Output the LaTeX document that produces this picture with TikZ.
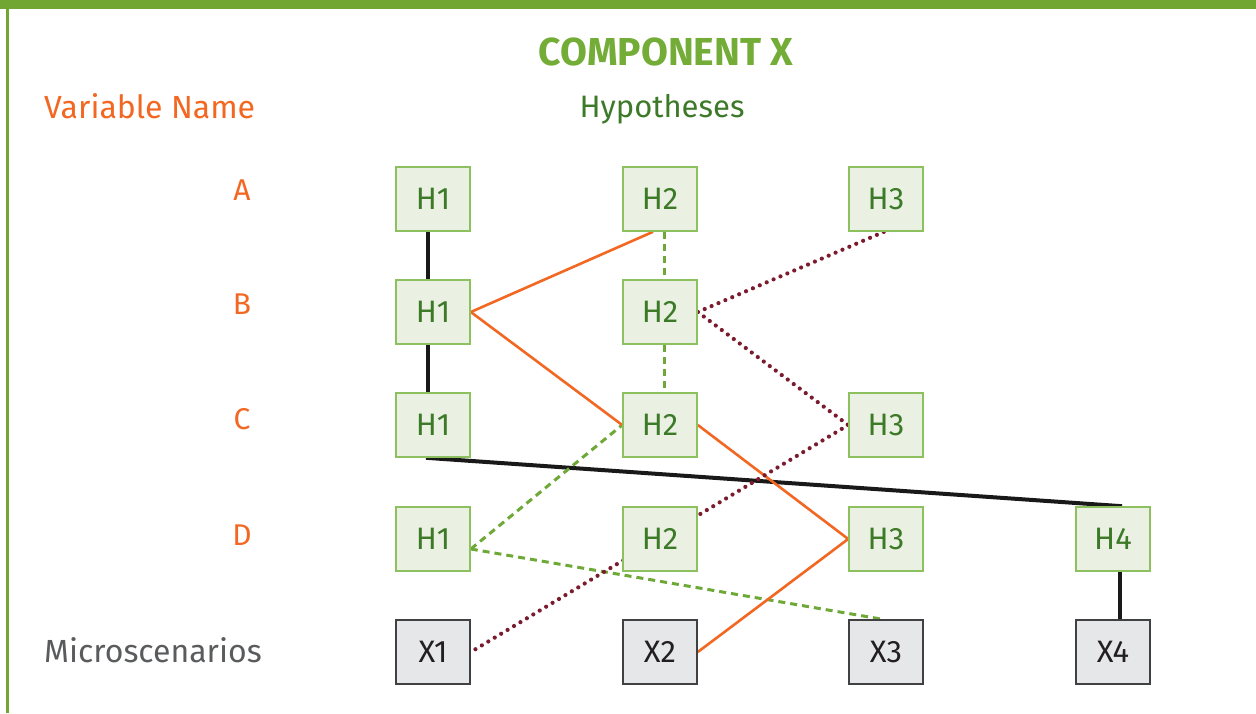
\documentclass[tikz,border=0pt]{standalone}
\usepackage{fontspec}
\setmainfont{Fira Sans}
\usetikzlibrary{calc}
\definecolor{framegreen}{HTML}{72A632}
\definecolor{titlegreen}{HTML}{74AC38}
\definecolor{darkgreen}{HTML}{3C7A28}
\definecolor{boxfill}{HTML}{EBF1E2}
\definecolor{boxborder}{HTML}{8DC05E}
\definecolor{orangec}{HTML}{F26722}
\definecolor{darkred}{HTML}{7A1C2E}
\definecolor{grayfill}{HTML}{E6E7E8}
\definecolor{grayborder}{HTML}{414042}
\definecolor{graytext}{HTML}{231F20}
\definecolor{microgray}{HTML}{5A5B5D}
\definecolor{dashgreen}{HTML}{6EA836}
\tikzset{
  hbox/.style={draw=boxborder, fill=boxfill, line width=1.6pt, minimum width=74pt, minimum height=64pt, inner sep=0pt, text=darkgreen, font=\fontsize{31}{31}\selectfont},
  xbox/.style={draw=grayborder, fill=grayfill, line width=1.6pt, minimum width=74pt, minimum height=64pt, inner sep=0pt, text=graytext, font=\fontsize{31}{31}\selectfont},
  varlabel/.style={text=orangec, font=\fontsize{30}{30}\selectfont, inner sep=0pt},
  blk/.style={draw=black!90, line width=4pt},
  orl/.style={draw=orangec, line width=2.6pt},
  gdash/.style={draw=dashgreen, line width=3pt, dash pattern=on 7pt off 5pt},
  rdot/.style={draw=darkred, line width=4.2pt, line cap=round, dash pattern=on 0pt off 7.5pt},
}
\begin{document}
\begin{tikzpicture}[x=1pt,y=-1pt]
\useasboundingbox (0,0) rectangle (1256,713);
\fill[framegreen] (0,0) rectangle (1256,9);
\fill[framegreen] (6,0) rectangle (9,713);

\node[anchor=base, inner sep=0pt, text=titlegreen, font=\bfseries\fontsize{39}{39}\selectfont] (title) at (666,65) {COMPONENT X};
\node[anchor=base west, inner sep=0pt, text=orangec, font=\fontsize{32}{32}\selectfont] (varname) at (44,118) {Variable Name};
\node[anchor=base, inner sep=0pt, text=darkgreen, font=\fontsize{31}{31}\selectfont] (hyp) at (662,117) {Hypotheses};
\node[anchor=base west, inner sep=0pt, text=microgray, font=\fontsize{32}{32}\selectfont] (micro) at (44,662) {Microscenarios};

\node[varlabel] (la) at (242,190) {A};
\node[varlabel] (lb) at (242,304) {B};
\node[varlabel] (lc) at (242,419) {C};
\node[varlabel] (ld) at (242,535) {D};

% coordinates of box centres
\coordinate (pa1) at (433,199); \coordinate (pa2) at (660,199); \coordinate (pa3) at (886,199);
\coordinate (pb1) at (433,312); \coordinate (pb2) at (660,312);
\coordinate (pc1) at (433,425); \coordinate (pc2) at (660,425); \coordinate (pc3) at (886,425);
\coordinate (pd1) at (433,539); \coordinate (pd2) at (660,539); \coordinate (pd3) at (886,539); \coordinate (pd4) at (1113,539);
\coordinate (px1) at (433,652); \coordinate (px2) at (660,652); \coordinate (px3) at (886,652); \coordinate (px4) at (1113,652);

% invisible boxes first, to have anchors for the connectors
\begin{scope}[every node/.append style={opacity=0}]
\node[hbox] (a1) at (pa1) {H1}; \node[hbox] (a2) at (pa2) {H2}; \node[hbox] (a3) at (pa3) {H3};
\node[hbox] (b1) at (pb1) {H1}; \node[hbox] (b2) at (pb2) {H2};
\node[hbox] (c1) at (pc1) {H1}; \node[hbox] (c2) at (pc2) {H2}; \node[hbox] (c3) at (pc3) {H3};
\node[hbox] (d1) at (pd1) {H1}; \node[hbox] (d2) at (pd2) {H2}; \node[hbox] (d3) at (pd3) {H3}; \node[hbox] (d4) at (pd4) {H4};
\node[xbox] (x1) at (px1) {X1}; \node[xbox] (x2) at (px2) {X2}; \node[xbox] (x3) at (px3) {X3}; \node[xbox] (x4) at (px4) {X4};
\end{scope}

% connectors
\draw[blk] ([xshift=-5.5pt]a1.south) -- ([xshift=-5.5pt]b1.north);
\draw[blk] ([xshift=-5.5pt]b1.south) -- ([xshift=-5.5pt]c1.north);
\draw[blk] ([xshift=-7pt]c1.south) -- ([xshift=9pt]d4.north);
\draw[blk] ([xshift=7pt]d4.south) -- ([xshift=7pt]x4.north);

\draw[gdash] ([xshift=4pt]a2.south) -- ([xshift=4pt]b2.north);
\draw[gdash] ([xshift=4pt]b2.south) -- ([xshift=4pt]c2.north);
\draw[gdash] ([yshift=-10pt]d1.east) -- (c2.west);
\draw[gdash] ([yshift=-10pt]d1.east) -- ([xshift=-4pt]x3.north);

\draw[orl] (b1.east) -- ([xshift=-7pt]a2.south);
\draw[orl] (b1.east) -- (c2.west);
\draw[orl] (c2.east) -- (d3.west);
\draw[orl] (d3.west) -- (x2.east);

\draw[rdot] (b2.east) -- ([xshift=-2pt]a3.south);
\draw[rdot] (b2.east) -- (c3.west);
\draw[rdot] (c3.west) -- (x1.east);

% visible boxes on top
\node[hbox] (va1) at (pa1) {H1}; \node[hbox] (va2) at (pa2) {H2}; \node[hbox] (va3) at (pa3) {H3};
\node[hbox] (vb1) at (pb1) {H1}; \node[hbox] (vb2) at (pb2) {H2};
\node[hbox] (vc1) at (pc1) {H1}; \node[hbox] (vc2) at (pc2) {H2}; \node[hbox] (vc3) at (pc3) {H3};
\node[hbox] (vd1) at (pd1) {H1}; \node[hbox] (vd2) at (pd2) {H2}; \node[hbox] (vd3) at (pd3) {H3}; \node[hbox] (vd4) at (pd4) {H4};
\node[xbox] (vx1) at (px1) {X1}; \node[xbox] (vx2) at (px2) {X2}; \node[xbox] (vx3) at (px3) {X3}; \node[xbox] (vx4) at (px4) {X4};
\end{tikzpicture}
\end{document}
